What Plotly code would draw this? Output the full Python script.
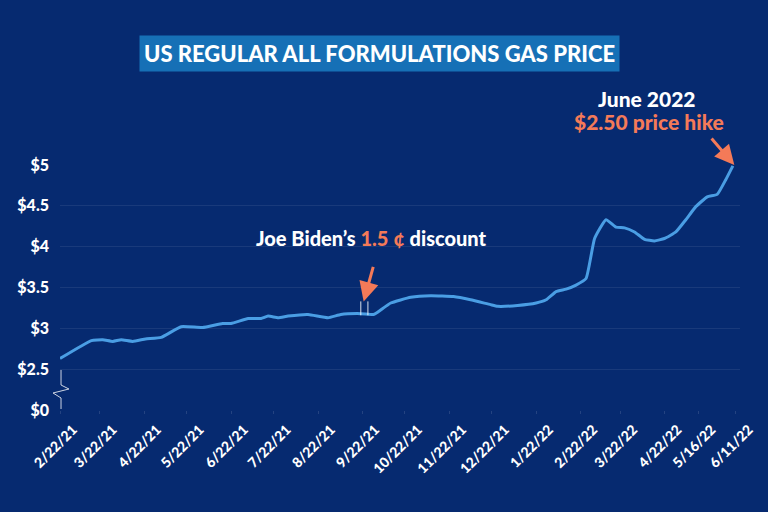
import plotly.graph_objects as go

# ---- data ----
dates = ["2021-02-22", "2021-03-16", "2021-03-24", "2021-03-31", "2021-04-06", "2021-04-14",
         "2021-04-23", "2021-05-04", "2021-05-18", "2021-06-02", "2021-06-16", "2021-06-22",
         "2021-07-04", "2021-07-13", "2021-07-18", "2021-07-25", "2021-08-01", "2021-08-15",
         "2021-08-29", "2021-09-07", "2021-09-21", "2021-09-30", "2021-10-03", "2021-10-12",
         "2021-10-26", "2021-11-09", "2021-11-25", "2021-12-07", "2021-12-21", "2021-12-26",
         "2022-01-09", "2022-01-22", "2022-01-29", "2022-02-05", "2022-02-12", "2022-02-19",
         "2022-02-26", "2022-03-04", "2022-03-12", "2022-03-19", "2022-03-25", "2022-04-01",
         "2022-04-08", "2022-04-15", "2022-04-22", "2022-04-30", "2022-05-07", "2022-05-14",
         "2022-05-22", "2022-05-29", "2022-06-04", "2022-06-09"]
prices = [2.63, 2.85, 2.86, 2.84, 2.86, 2.84,
          2.87, 2.89, 3.02, 3.01, 3.06, 3.06,
          3.12, 3.12, 3.15, 3.13, 3.15, 3.17,
          3.13, 3.17, 3.18, 3.17, 3.20, 3.31,
          3.38, 3.40, 3.39, 3.35, 3.29, 3.27,
          3.28, 3.31, 3.35, 3.45, 3.48, 3.53,
          3.61, 4.10, 4.33, 4.24, 4.23, 4.18,
          4.09, 4.07, 4.10, 4.18, 4.33, 4.49,
          4.61, 4.64, 4.82, 4.99]

tick_dates = ["2021-02-22", "2021-03-22", "2021-04-22", "2021-05-22", "2021-06-22", "2021-07-22",
              "2021-08-22", "2021-09-22", "2021-10-22", "2021-11-22", "2021-12-22", "2022-01-22",
              "2022-02-22", "2022-03-22", "2022-04-22", "2022-05-16", "2022-06-11"]
tick_labels = ["2/22/21", "3/22/21", "4/22/21", "5/22/21", "6/22/21", "7/22/21", "8/22/21",
               "9/22/21", "10/22/21", "11/22/21", "12/22/21", "1/22/22", "2/22/22", "3/22/22",
               "4/22/22", "5/16/22", "6/11/22"]

y_tickvals = [2.0, 2.5, 3.0, 3.5, 4.0, 4.5, 5.0]
y_ticktext = ["$0", "$2.5", "$3", "$3.5", "$4", "$4.5", "$5"]

BG = "#062a70"
LINE = "#4a9ee4"
ORANGE = "#f47a58"
BOX = "#1670b6"
FONT = "Lato"

fig = go.Figure()
fig.add_trace(go.Scatter(x=dates, y=prices, mode="lines",
                         line=dict(color=LINE, width=3, shape="spline", smoothing=0.4),
                         hoverinfo="skip", showlegend=False))

# plot area geometry in pixels (for decorative shapes)
L, R, T, B = 60, 745, 165, 410
def px(x):
    return (x - L) / (R - L)
def py(y):
    return (B - y) / (B - T)

shapes = []
# axis break zig-zag
pts = [(61, 370), (61, 385), (69, 389), (53, 393), (61, 398), (61, 409)]
path = "M " + " L ".join(f"{px(a):.4f},{py(b):.4f}" for a, b in pts)
shapes.append(dict(type="path", path=path, xref="paper", yref="paper",
                   line=dict(color="rgba(255,255,255,0.8)", width=1)))
# small marks at the discount
for d in ["2021-09-21", "2021-09-26"]:
    shapes.append(dict(type="line", x0=d, x1=d, y0=3.16, y1=3.33, xref="x", yref="y",
                       line=dict(color="rgba(255,255,255,0.85)", width=1)))

fig.update_layout(
    width=768, height=512,
    margin=dict(l=L, r=768 - R, t=T, b=512 - B),
    paper_bgcolor=BG, plot_bgcolor=BG,
    font=dict(family=FONT, color="white"),
    shapes=shapes,
    xaxis=dict(type="date", range=["2021-02-22", "2022-06-14"],
               tickvals=tick_dates, ticktext=tick_labels, tickangle=-45,
               tickfont=dict(size=14, family=FONT, weight=900, color="white"),
               ticklabelshift=13, ticklabelstandoff=2,
               showgrid=False, zeroline=False, showline=False,
               ticks="outside", ticklen=3, tickcolor="rgba(255,255,255,0.12)"),
    yaxis=dict(range=[2.0, 5.0], tickvals=y_tickvals, ticktext=y_ticktext,
               tickfont=dict(size=16, family=FONT, weight=900, color="white"),
               showgrid=True, gridcolor="rgba(255,255,255,0.08)", gridwidth=1,
               zeroline=False, showline=False, ticklabelstandoff=10),
    annotations=[
        dict(text="US REGULAR ALL FORMULATIONS GAS PRICE", xref="paper", yref="paper",
             x=px(382), y=py(53), xanchor="center", yanchor="middle", showarrow=False,
             font=dict(size=22, family=FONT, weight=900, color="white"),
             bgcolor=BOX, borderpad=4),
        dict(text=f"Joe Biden’s <span style='color:{ORANGE}'>1.5 ¢</span> discount",
             xref="paper", yref="paper", x=px(374), y=py(238), xanchor="center",
             yanchor="middle", showarrow=False,
             font=dict(size=20, family=FONT, weight=900, color="white")),
        dict(text="June 2022", xref="paper", yref="paper", x=px(651), y=py(98),
             xanchor="center", yanchor="middle", showarrow=False,
             font=dict(size=21, family=FONT, weight=900, color="white")),
        dict(text="$2.50 price hike", xref="paper", yref="paper", x=px(653), y=py(121),
             xanchor="center", yanchor="middle", showarrow=False,
             font=dict(size=21, family=FONT, weight=900, color=ORANGE)),
        # arrows
        dict(x="2021-09-23", y=3.33, xref="x", yref="y", ax=10, ay=-36,
             text="", showarrow=True,
             arrowhead=2, arrowsize=1.3, arrowwidth=3, arrowcolor=ORANGE),
        dict(x="2022-06-10", y=5.0, xref="x", yref="y", ax=-24, ay=-28,
             text="", showarrow=True, arrowhead=2, arrowsize=1.3, arrowwidth=3,
             arrowcolor=ORANGE),
    ],
)

fig.write_html("out.html")
